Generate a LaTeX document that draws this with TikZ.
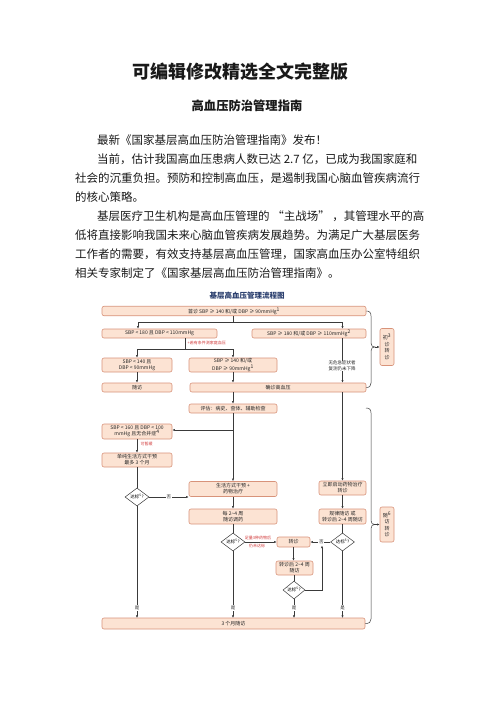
\documentclass[tikz,border=0pt]{standalone}
\usepackage{fontspec}
\setmainfont{Noto Sans CJK SC}
\usetikzlibrary{arrows.meta,shapes.geometric,calc}
\definecolor{boxfill}{HTML}{FCE3D3}
\definecolor{boxdraw}{HTML}{D8937A}
\definecolor{redtxt}{HTML}{D23A3A}
\definecolor{navy}{HTML}{2B3F6E}
\definecolor{linec}{HTML}{3A3A3A}
\begin{document}
\begin{tikzpicture}[x=1pt,y=-1pt,
 fbox/.style={draw=boxdraw, fill=boxfill, rounded corners=2pt, line width=0.6pt, inner sep=0pt, align=center, font=\fontsize{5}{6}\selectfont, text=black!85},
 dia/.style={diamond, draw=linec, fill=white, line width=0.5pt, inner sep=0pt, font=\fontsize{4.5}{5}\selectfont},
 conn/.style={draw=linec, line width=0.5pt},
 arr/.style={conn, -{Latex[length=2.6pt,width=2.2pt]}},
 lbl/.style={font=\fontsize{4.5}{5}\selectfont, fill=white, inner sep=0.6pt, text=black!85},
 redl/.style={font=\fontsize{4}{5}\selectfont, text=redtxt, inner sep=0.5pt},
 body/.style={anchor=west, inner sep=0pt, font=\fontsize{11.5}{13}\selectfont, text=black!90}
]
\useasboundingbox (0,0) rectangle (496,702);
\fill[white] (0,0) rectangle (496,702);

% headings
\node[font=\fontsize{18}{20}\selectfont\bfseries, text=black!90] (title) at (240,72) {可编辑修改精选全文完整版};
\node[font=\fontsize{12.3}{14}\selectfont\bfseries, text=black!90] (sub) at (247,106) {高血压防治管理指南};

% body
\node[body] (p1) at (97,140) {最新《国家基层高血压防治管理指南》发布！};
\node[body] (p2) at (97,159) {当前，估计我国高血压患病人数已达 2.7 亿，已成为我国家庭和};
\node[body] (p3) at (75,178) {社会的沉重负担。预防和控制高血压，是遏制我国心脑血管疾病流行};
\node[body] (p4) at (75,197) {的核心策略。};
\node[body] (p5) at (97,216) {基层医疗卫生机构是高血压管理的 “主战场” ，其管理水平的高};
\node[body] (p6) at (75,235) {低将直接影响我国未来心脑血管疾病发展趋势。为满足广大基层医务};
\node[body] (p7) at (75,254) {工作者的需要，有效支持基层高血压管理，国家高血压办公室特组织};
\node[body] (p8) at (75,273) {相关专家制定了《国家基层高血压防治管理指南》。};

% flowchart title
\node[font=\fontsize{7.5}{8}\selectfont\bfseries, text=navy] (ftitle) at (247,296) {基层高血压管理流程图};

% boxes
\node[fbox, minimum width=264pt, minimum height=9.5pt] (top) at (234,311) {首诊 SBP ≥ 140 和/或 DBP ≥ 90mmHg\textsuperscript{1}};
\node[fbox, minimum width=115pt, minimum height=9pt] (lt) at (159.5,333.5) {SBP < 180 且 DBP < 110mmHg};
\node[fbox, minimum width=114pt, minimum height=9pt] (rt) at (309,333.5) {SBP ≥ 180 和/或 DBP ≥ 110mmHg\textsuperscript{2}};
\node[fbox, minimum width=70pt, minimum height=14pt] (ll) at (137,365) {SBP < 140 且\\DBP < 90mmHg};
\node[fbox, minimum width=88pt, minimum height=14pt] (lm) at (233,365) {SBP ≥ 140 和/或\\DBP ≥ 90mmHg\textsuperscript{1}};
\node[fbox, minimum width=70pt, minimum height=9pt] (sf) at (137,387.5) {随访};
\node[fbox, minimum width=176pt, minimum height=9pt] (dx) at (278,387.5) {确诊高血压};
\node[fbox, minimum width=88pt, minimum height=9pt] (pg) at (233,408.5) {评估：病史、查体、辅助检查};
\node[fbox, minimum width=70pt, minimum height=15pt] (l1) at (137,431.5) {SBP < 160 且 DBP < 100\\mmHg 且无合并症\textsuperscript{4}};
\node[fbox, minimum width=70pt, minimum height=14pt] (l2) at (137,460) {单纯生活方式干预\\最多 3 个月};
\node[dia, minimum width=24pt, minimum height=13pt] (d1) at (137,497) {达标\textsuperscript{5}?};
\node[fbox, minimum width=88pt, minimum height=15pt] (m1) at (233,489) {生活方式干预 +\\药物治疗};
\node[fbox, minimum width=88pt, minimum height=15pt] (m2) at (233,516.5) {每 2\textasciitilde 4 周\\随访调药};
\node[dia, minimum width=24pt, minimum height=15pt] (d2) at (233,542) {达标\textsuperscript{5}?};
\node[fbox, minimum width=47pt, minimum height=14pt] (r1) at (342.5,488) {立即启动药物治疗\\转诊};
\node[fbox, minimum width=47pt, minimum height=15pt] (r2) at (342.5,516.5) {规律随访 或\\转诊后 2\textasciitilde 4 周随访};
\node[dia, minimum width=24pt, minimum height=15pt] (d3) at (342.5,542) {达标\textsuperscript{5}?};
\node[fbox, minimum width=33pt, minimum height=10pt] (zz) at (293.5,542) {转诊};
\node[fbox, minimum width=37pt, minimum height=14pt] (zz2) at (294.5,568) {转诊后 2\textasciitilde 4 周\\随访};
\node[dia, minimum width=22pt, minimum height=15pt] (d4) at (294,590) {达标\textsuperscript{5}?};
\node[fbox, minimum width=263pt, minimum height=11pt] (bot) at (233.5,623.5) {3 个月随访};
\node[fbox, minimum width=14pt, minimum height=37pt, font=\fontsize{5}{6.5}\selectfont] (c1) at (387,347) {初\textsuperscript{3}\\诊\\转\\诊};
\node[fbox, minimum width=14pt, minimum height=35pt, font=\fontsize{5}{6.5}\selectfont] (c2) at (387,524.5) {随\textsuperscript{6}\\访\\转\\诊};

% top split
\coordinate (s1) at (233,322);
\draw[conn] (top.south -| s1) -- (s1);
\draw[conn] (138,322) coordinate (s1l) -- (342.5,322) coordinate (s1r);
\draw[arr] (s1l) -- (lt.north -| s1l);
\draw[arr] (s1r) -- (rt.north -| s1r);

% second split
\coordinate (s2) at (185,349);
\draw[conn] (lt.south -| s2) -- (s2);
\node[redl, anchor=west] (red1) at (187,342.5) {+若有条件测家庭血压};
\draw[conn] (137,349) coordinate (s2l) -- (233,349) coordinate (s2r);
\draw[arr] (s2l) -- (ll.north);
\draw[arr] (s2r) -- (lm.north);

% right first column
\draw[arr] (rt.south -| s1r) -- (dx.north -| s1r);
\node[lbl, align=center, font=\fontsize{4.5}{5.5}\selectfont] (nd) at (342,366) {无危急症状者\\复测仍未下降};

\draw[arr] (ll) -- (sf);
\draw[arr] (lm) -- (dx.north -| lm);
\draw[arr] (dx.south -| pg) -- (pg);
\draw[arr] (dx.south -| r1) -- (r1);
\draw[arr] (pg) -- (m1);
\coordinate (s3) at (233,430);
\draw[arr] (s3) -- (l1.east |- s3);

% left column
\draw[arr] (l1) -- (l2);
\node[redl, anchor=west] (red2) at (140,443.5) {可暂缓};
\draw[conn] (l2) -- (d1);
\draw[arr] (d1) -- node[lbl] {否} (m1.west |- d1);

% middle column
\draw[arr] (m1) -- (m2);
\draw[conn] (m2) -- (d2);
\draw[arr] (d2) -- (zz);
\node[redl] (red3) at (258,538) {足量3种药物后};
\node[redl] (red4) at (257,546) {仍未达标};

% right column
\draw[arr] (r1) -- (r2);
\draw[conn] (r2) -- (d3);
\draw[arr] (d3) -- node[lbl, pos=0.45] (no3) {否} (zz);
\draw[arr] (zz) -- (zz2.north -| zz);
\draw[conn] (zz2.south -| d4) -- (d4);
\draw[arr] (d4.east) -- (322,590) -- (322,545.5);

% to bottom
\foreach \nm/\xx in {d1/137, d2/233, d4/294, d3/342.5}{
  \draw[arr] (\nm.south) -- (\xx,618) ;
  \node[lbl] at (\xx,608) {是};
}

% brackets
\coordinate (t1) at (375,347);
\draw[conn] (top.east) .. controls (369.5,311) and (371,312.5) .. (371,316) -- (371,343)
  .. controls (371,346) and (372.5,347) .. (t1)
  .. controls (372.5,347) and (371,348) .. (371,351) -- (371,383)
  .. controls (371,386) and (369.5,387.5) .. (dx.east);
\draw[arr] (t1) -- (c1.west);
\coordinate (t2) at (375,524.5);
\coordinate (b2a) at (366,408);
\draw[conn] (b2a) .. controls (369.5,408) and (371,409.5) .. (371,413) -- (371,520.5)
  .. controls (371,523.5) and (372.5,524.5) .. (t2)
  .. controls (372.5,524.5) and (371,525.5) .. (371,528.5) -- (371,619)
  .. controls (371,622) and (369.5,623.5) .. (bot.east);
\draw[arr] (t2) -- (c2.west);
\end{tikzpicture}
\end{document}
